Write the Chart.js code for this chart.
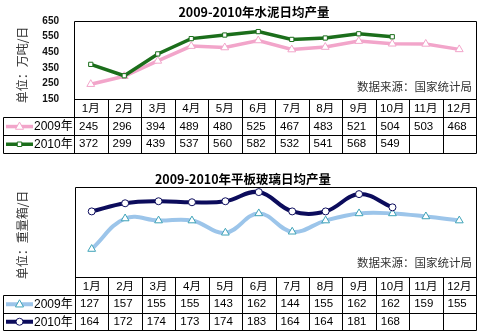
<!DOCTYPE html>
<html><head><meta charset="utf-8">
<script src="https://cdn.jsdelivr.net/npm/chart.js@4/dist/chart.umd.min.js"></script>
<style>
html,body{margin:0;padding:0;background:#fff;}
#c1{position:absolute;left:0;top:0;}
#c2{position:absolute;left:0;top:165px;}
</style></head>
<body>
<canvas id="c1" width="484" height="165"></canvas>
<canvas id="c2" width="484" height="166"></canvas>
<script>
const months = ['1月','2月','3月','4月','5月','6月','7月','8月','9月','10月','11月','12月'];
const cement2009 = [245,296,394,489,480,525,467,483,521,504,503,468];
const cement2010 = [372,299,439,537,560,582,532,541,568,549];
const glass2009 = [127,157,155,155,143,162,144,155,162,162,159,155];
const glass2010 = [164,172,174,173,174,183,164,164,181,168];
const cementTicks = [150,250,350,450,550,650];
const seriesNames = ['2009年','2010年'];

const MIX = '"Liberation Sans", "Noto Sans CJK SC", sans-serif';
const CJK = '"Noto Sans CJK SC", "Liberation Sans", sans-serif';

function drawMarker(ctx, style, x, y, r, stroke) {
  ctx.save();
  ctx.fillStyle = '#fff'; ctx.strokeStyle = stroke; ctx.lineWidth = 1;
  ctx.beginPath();
  if (style === 'triangle') {
    ctx.moveTo(x, y - r); ctx.lineTo(x + r*0.9, y + r*0.6); ctx.lineTo(x - r*0.9, y + r*0.6); ctx.closePath();
  } else if (style === 'rect') {
    ctx.rect(x - r*0.75, y - r*0.75, r*1.5, r*1.5);
  } else {
    ctx.arc(x, y, r, 0, Math.PI*2);
  }
  ctx.fill(); ctx.stroke();
  ctx.restore();
}

function tablePlugin(cfg) {
  return {
    id: 'tbl',
    afterDraw(chart) {
      const ctx = chart.ctx, a = chart.chartArea, xs = chart.scales.x;
      const L = Math.round(a.left) + 0.5, R = Math.round(a.right) + 0.5;
      const T = Math.round(a.top) + 0.5, B = Math.round(a.bottom) + 0.5;
      const rh = cfg.rowH;
      const r1 = B + rh, r2 = B + 2*rh, r3 = B + 3*rh;
      const colW = (a.right - a.left) / months.length;
      ctx.save();
      ctx.strokeStyle = '#000'; ctx.lineWidth = 1;
      ctx.beginPath();
      ctx.moveTo(L, T); ctx.lineTo(R, T);
      ctx.moveTo(L, B); ctx.lineTo(R, B);
      [r1, r2, r3].forEach(y => { const yy = Math.round(y) + 0.5; ctx.moveTo(3.5, yy); ctx.lineTo(R, yy); });
      ctx.moveTo(L, T); ctx.lineTo(L, Math.round(r3)+0.5);
      ctx.moveTo(R, T); ctx.lineTo(R, Math.round(r3)+0.5);
      ctx.moveTo(3.5, Math.round(r1)+0.5); ctx.lineTo(3.5, Math.round(r3)+0.5);
      for (let i = 1; i < months.length; i++) {
        const x = Math.round(a.left + i*colW) + 0.5;
        ctx.moveTo(x, B); ctx.lineTo(x, Math.round(r3)+0.5);
      }
      ctx.stroke();
      // header
      ctx.fillStyle = '#000';
      ctx.textBaseline = 'middle';
      ctx.font = '11.5px ' + MIX;
      ctx.textAlign = 'center';
      months.forEach((m, i) => ctx.fillText(m, xs.getPixelForValue(i), B + rh/2 + 0.5));
      // values
      ctx.textAlign = 'left';
      chart.data.datasets.forEach((ds, di) => {
        const yy = B + rh*(di+1) + rh/2 + 0.5;
        ctx.font = '11.5px ' + MIX;
        ds.data.forEach((v, i) => {
          if (v == null) return;
          ctx.fillText(String(v), a.left + i*colW + 5, yy);
        });
        // legend
        ctx.save();
        ctx.strokeStyle = ds.borderColor; ctx.lineWidth = ds.borderWidth;
        ctx.beginPath(); ctx.moveTo(6, yy); ctx.lineTo(33, yy); ctx.stroke();
        ctx.restore();
        drawMarker(ctx, ds.pointStyle, 19.5, yy, ds.pointRadius, ds.pointBorderColor);
        ctx.font = '12px ' + MIX;
        ctx.fillStyle = '#000';
        ctx.fillText(ds.label, 34, yy + 0.5);
      });
      // title
      ctx.font = 'bold 12.5px ' + CJK;
      ctx.textAlign = 'center';
      ctx.fillText(cfg.title, cfg.titleX, cfg.titleY);
      // source
      ctx.font = '11.5px ' + CJK;
      ctx.fillStyle = '#333';
      ctx.textAlign = 'right';
      ctx.fillText('数据来源：国家统计局', 472, cfg.srcY);
      // y title
      ctx.save();
      ctx.font = '12px ' + CJK;
      ctx.translate(22, cfg.yTitleY);
      ctx.rotate(-Math.PI/2);
      ctx.textAlign = 'center';
      ctx.fillText(cfg.yTitle, 0, 0);
      ctx.restore();
      ctx.restore();
    }
  };
}

new Chart(document.getElementById('c1'), {
  type: 'line',
  data: {
    labels: months,
    datasets: [
      { label: seriesNames[0], data: cement2009, borderColor: '#F2A5CA', borderWidth: 3.5,
        pointStyle: 'triangle', pointRadius: 4.5, pointBackgroundColor: '#fff', pointBorderColor: '#F2A5CA', pointBorderWidth: 1, order: 1, tension: 0 },
      { label: seriesNames[1], data: cement2010, borderColor: '#1B6E1B', borderWidth: 3.5,
        pointStyle: 'rect', pointRadius: 3, pointBackgroundColor: '#fff', pointBorderColor: '#1B6E1B', pointBorderWidth: 1, order: 0, tension: 0 }
    ]
  },
  options: {
    responsive: false, animation: false, events: [],
    layout: { padding: { top: 19, right: 8, bottom: 66, left: 0 } },
    plugins: { legend: { display: false }, tooltip: { enabled: false } },
    scales: {
      x: { display: false, offset: true },
      y: {
        min: 150, max: 650,
        afterBuildTicks(s) { s.ticks = cementTicks.map(v => ({ value: v })); },
        afterFit(s) { s.width = 74; },
        border: { display: false },
        grid: { display: false, drawTicks: false },
        ticks: { autoSkip: false, padding: 15, color: '#111', font: { family: '"Liberation Sans", sans-serif', size: 10, weight: 'bold' } }
      }
    }
  },
  plugins: [tablePlugin({ rowH: 17.7, title: '2009-2010年水泥日均产量', titleX: 254, titleY: 12.5, srcY: 87, yTitle: '单位：万吨/日', yTitleY: 65 })]
});

new Chart(document.getElementById('c2'), {
  type: 'line',
  data: {
    labels: months,
    datasets: [
      { label: seriesNames[0], data: glass2009, borderColor: '#9CC5EA', borderWidth: 4,
        pointStyle: 'triangle', pointRadius: 4.5, pointBackgroundColor: '#fff', pointBorderColor: '#3FA3B8', pointBorderWidth: 1, order: 1, tension: 0.4 },
      { label: seriesNames[1], data: glass2010, borderColor: '#0C0C5C', borderWidth: 4,
        pointStyle: 'circle', pointRadius: 3.5, pointBackgroundColor: '#fff', pointBorderColor: '#0C0C5C', pointBorderWidth: 1, order: 0, tension: 0.4 }
    ]
  },
  options: {
    responsive: false, animation: false, events: [],
    layout: { padding: { top: 22, right: 8, bottom: 54.5, left: 75 } },
    plugins: { legend: { display: false }, tooltip: { enabled: false } },
    scales: {
      x: { display: false, offset: true },
      y: { display: false, min: 100, max: 188 }
    }
  },
  plugins: [tablePlugin({ rowH: 17.5, title: '2009-2010年平板玻璃日均产量', titleX: 243, titleY: 14, srcY: 97.5, yTitle: '单位：重量箱/日', yTitleY: 70 })]
});
</script>
</body></html>
